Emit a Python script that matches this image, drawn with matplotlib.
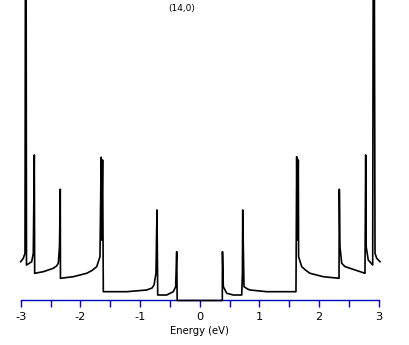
import numpy as np
import matplotlib
matplotlib.use('Agg')
import matplotlib.pyplot as plt

# density of states of the (14,0) tube (arbitrary units)
energy = [-3.000, -2.956, -2.928, -2.915, -2.903, -2.861, -2.816, -2.789, -2.772,
          -2.766, -2.621, -2.454, -2.400, -2.370, -2.350, -2.337, -2.334, -2.119,
          -1.894, -1.806, -1.727, -1.672, -1.652, -1.645, -1.628, -1.616, -1.224,
          -0.889, -0.800, -0.767, -0.734, -0.717, -0.705, -0.554, -0.444, -0.404,
          -0.387, -0.379,
          0.377, 0.380, 0.394, 0.451, 0.561, 0.702, 0.714, 0.719, 0.740, 0.800,
          0.841, 1.121, 1.611, 1.623, 1.633, 1.650, 1.655, 1.707, 1.780, 1.846,
          2.069, 2.332, 2.337, 2.348, 2.377, 2.430, 2.516, 2.767, 2.779, 2.787,
          2.822, 2.896, 2.913, 2.935, 2.963, 3.018]
dos = [0.388, 0.422, 0.472, 6.0, 0.355, 0.370, 0.388, 0.472, 1.455,
       0.272, 0.288, 0.322, 0.345, 0.372, 0.538, 1.112, 0.222, 0.238,
       0.272, 0.300, 0.338, 0.438, 1.432, 0.605, 1.405, 0.088, 0.088,
       0.105, 0.125, 0.155, 0.272, 0.905, 0.055, 0.055, 0.088, 0.138,
       0.488, 0.0,
       0.0, 0.488, 0.138, 0.072, 0.055, 0.055, 0.275, 0.905, 0.138, 0.115,
       0.105, 0.088, 0.088, 1.438, 0.605, 1.405, 0.438, 0.338, 0.300, 0.272,
       0.238, 0.222, 1.112, 0.538, 0.372, 0.340, 0.322, 0.272, 1.455, 0.538,
       0.405, 0.355, 6.0, 0.472, 0.422, 0.388]

major_ticks = [-3, -2, -1, 0, 1, 2, 3]
minor_ticks = [-2.5, -1.5, -0.5, 0.5, 1.5, 2.5]
tick_labels = ['-3', '-2', '-1', '0', '1', '2', '3']

fig = plt.figure(figsize=(4.09, 3.45), dpi=100)
ax = fig.add_axes([0.0506, 0.129, 0.8758, 0.871])

ax.plot(energy, dos, color='black', lw=1.2, clip_on=False, zorder=3)

ax.set_xlim(-3, 3)
ax.set_ylim(0, 3.005)

for s in ['left', 'right', 'top']:
    ax.spines[s].set_visible(False)
ax.spines['bottom'].set_color('#0000c0')
ax.spines['bottom'].set_linewidth(1.0)

ax.set_yticks([])
ax.set_xticks(major_ticks)
ax.set_xticklabels(tick_labels)
ax.set_xticks(minor_ticks, minor=True)
ax.tick_params(axis='x', which='both', direction='out', length=5, width=1,
               color='#0000c0', labelsize=8.2, labelcolor='black')
ax.set_xlabel('Energy (eV)', fontsize=7.2, labelpad=3)

fig.text(182 / 409, 1 - 9 / 345, '(14,0)', fontsize=6.5, ha='center', va='center')

fig.savefig('out.png', dpi=100)
